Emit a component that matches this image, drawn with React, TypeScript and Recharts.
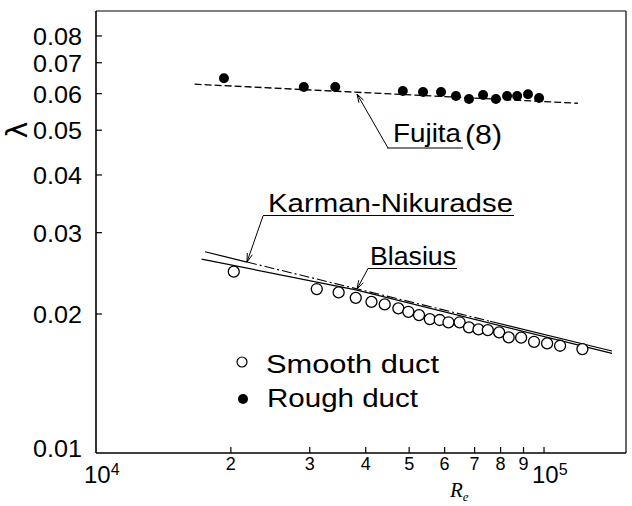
import React from 'react';
import { ComposedChart, Scatter, Line, XAxis, YAxis, ReferenceLine } from 'recharts';

// smooth duct (open circles)
const smoothRe = [20300, 31100, 34800, 38000, 41200, 44100, 47300, 49800, 52600, 55600, 58500, 61200,
  64800, 68000, 71400, 74900, 79400, 83400, 88900, 95000, 101600, 108600, 121800];
const smoothLambda = [0.0247, 0.02265, 0.02227, 0.02168, 0.02125, 0.02098, 0.02057, 0.02022, 0.01989,
  0.0195, 0.01941, 0.01919, 0.01919, 0.01871, 0.01852, 0.01846, 0.01825, 0.0178, 0.01777, 0.01741,
  0.01727, 0.01707, 0.01679];

// rough duct (filled dots)
const roughRe = [19300, 29100, 34200, 48400, 53700, 58900, 63600, 68000, 73100, 78100, 82700, 87100, 92100, 97500];
const roughLambda = [0.0648, 0.062, 0.062, 0.0608, 0.0605, 0.0605, 0.0593, 0.0584, 0.0596, 0.0584,
  0.0593, 0.0593, 0.0598, 0.0587];

// Fujita(8) dashed line
const fujitaRe = [16600, 119000];
const fujitaLambda = [0.0629, 0.0572];

// Blasius (upper, partly dash-dot)
const blasiusRe = [17510, 21730, 75800, 141800];
const blasiusLambda = [0.02728, 0.02591, 0.01929, 0.01663];

// Karman-Nikuradse (lower solid)
const karmanRe = [17210, 38240, 141800];
const karmanLambda = [0.0263, 0.02253, 0.01644];

const xTicks = [10000, 20000, 30000, 40000, 50000, 60000, 70000, 80000, 90000, 100000];
const xTickLabels = ['10', '2', '3', '4', '5', '6', '7', '8', '9', '10'];
const xTickExp = ['4', '', '', '', '', '', '', '', '', '5'];

const yTicks = [0.01, 0.02, 0.03, 0.04, 0.05, 0.06, 0.07, 0.08];
const yTickLabels = ['0.01', '0.02', '0.03', '0.04', '0.05', '0.06', '0.07', '0.08'];

const xDomain = [10000, 152400];
const yDomain = [0.01, 0.0906];

const pts = (xs: number[], ys: number[]) => xs.map((re, i) => ({ re, lambda: ys[i] }));

const smoothData = pts(smoothRe, smoothLambda);
const roughData = pts(roughRe, roughLambda);
const fujitaData = pts(fujitaRe, fujitaLambda);
const blasiusData = pts(blasiusRe, blasiusLambda);
const karmanData = pts(karmanRe, karmanLambda);

const SANS = 'Liberation Sans, Arial, Helvetica, sans-serif';

const XTick = (props: any) => {
  const { x, y, payload } = props;
  const i = xTicks.indexOf(payload.value);
  const exp = xTickExp[i];
  return (
    <g>
      {i > 0 && <line x1={x} x2={x} y1={y} y2={y - 6} stroke="#000" strokeWidth={1.2} />}
      {exp ? (
        <text x={x - 12} y={y + 30} fontSize={24} fontFamily={SANS} fill="#000">
          {xTickLabels[i]}
          <tspan dy={-8} fontSize={16}>{exp}</tspan>
        </text>
      ) : (
        <text x={x} y={y + 17} fontSize={18} fontFamily={SANS} fill="#000" textAnchor="middle">
          {xTickLabels[i]}
        </text>
      )}
    </g>
  );
};

const YTick = (props: any) => {
  const { x, y, payload } = props;
  const i = yTicks.indexOf(payload.value);
  return (
    <g>
      {i > 0 && <line x1={x} x2={x + 6} y1={y} y2={y} stroke="#000" strokeWidth={1.2} />}
      <text x={x - 14} y={y + (i === 0 ? 4 : 9)} fontSize={24} fontFamily={SANS} fill="#000"
        textAnchor="end" textLength={49} lengthAdjust="spacingAndGlyphs">
        {yTickLabels[i]}
      </text>
    </g>
  );
};

const OpenDot = (p: any) => <circle cx={p.cx} cy={p.cy} r={5.5} fill="#fff" stroke="#000" strokeWidth={1.3} />;
const FilledDot = (p: any) => <circle cx={p.cx} cy={p.cy} r={5} fill="#000" />;

function Leader({ x1, y1, x2, y2 }: { x1: number; y1: number; x2: number; y2: number }) {
  // arrow from (x1,y1) to tip (x2,y2)
  const dx = x2 - x1;
  const dy = y2 - y1;
  const len = Math.hypot(dx, dy);
  const ux = dx / len;
  const uy = dy / len;
  const a = 0.3;
  const L = 9;
  const w1x = x2 - L * (ux * Math.cos(a) - uy * Math.sin(a));
  const w1y = y2 - L * (uy * Math.cos(a) + ux * Math.sin(a));
  const w2x = x2 - L * (ux * Math.cos(-a) - uy * Math.sin(-a));
  const w2y = y2 - L * (uy * Math.cos(-a) + ux * Math.sin(-a));
  return (
    <g stroke="#000" strokeWidth={1} fill="none">
      <line x1={x1} y1={y1} x2={x2} y2={y2} />
      <polyline points={`${w1x},${w1y} ${x2},${y2} ${w2x},${w2y}`} />
    </g>
  );
}

export default function App() {
  return (
    <div style={{ position: 'absolute', left: 0, top: 0, width: 632, height: 506, background: '#fff' }}>
      <ComposedChart width={632} height={506} margin={{ top: 11, right: 6, bottom: 10, left: 10 }}>
        <XAxis
          dataKey="re"
          type="number"
          scale="log"
          domain={xDomain}
          allowDataOverflow
          ticks={xTicks}
          interval={0}
          tick={<XTick />}
          tickLine={false}
          tickSize={0}
          tickMargin={0}
          height={43}
          axisLine={{ stroke: '#000', strokeWidth: 1.6 }}
        />
        <YAxis
          dataKey="lambda"
          type="number"
          scale="log"
          domain={yDomain}
          allowDataOverflow
          ticks={yTicks}
          interval={0}
          tick={<YTick />}
          tickLine={false}
          tickSize={0}
          tickMargin={0}
          width={86}
          axisLine={{ stroke: '#000', strokeWidth: 1.6 }}
        />
        <ReferenceLine y={yDomain[1]} stroke="#000" strokeWidth={1.2} />
        <ReferenceLine x={xDomain[1]} stroke="#000" strokeWidth={1.2} />

        <Line data={fujitaData} dataKey="lambda" stroke="#000" strokeWidth={1.3} strokeDasharray="7 3"
          dot={false} isAnimationActive={false} />
        <Line data={karmanData} dataKey="lambda" stroke="#000" strokeWidth={1.2}
          dot={false} isAnimationActive={false} />
        <Line data={blasiusData.slice(0, 2)} dataKey="lambda" stroke="#000" strokeWidth={1.2}
          dot={false} isAnimationActive={false} />
        <Line data={blasiusData.slice(1, 3)} dataKey="lambda" stroke="#000" strokeWidth={1.1}
          strokeDasharray="10 3 2 3" dot={false} isAnimationActive={false} />
        <Line data={blasiusData.slice(2, 4)} dataKey="lambda" stroke="#000" strokeWidth={1.2}
          dot={false} isAnimationActive={false} />

        <Scatter data={smoothData} dataKey="lambda" shape={OpenDot} isAnimationActive={false} />
        <Scatter data={roughData} dataKey="lambda" shape={FilledDot} isAnimationActive={false} />
      </ComposedChart>

      <svg width={632} height={506} style={{ position: 'absolute', left: 0, top: 0, pointerEvents: 'none' }}>
        {/* axis titles */}
        <g transform="translate(18 130) rotate(-90)">
          <text x={0} y={9} fontSize={28} fontFamily="DejaVu Sans, sans-serif" textAnchor="middle">λ</text>
        </g>
        <text x={450} y={497} fontSize={21} fontFamily="Liberation Serif, serif" fontStyle="italic">
          R<tspan fontSize={13} dy={4}>e</tspan>
        </text>

        {/* Fujita(8) */}
        <text x={393} y={142} fontSize={26} fontFamily={SANS} textLength={68} lengthAdjust="spacingAndGlyphs">Fujita</text>
        <text x={465} y={144} fontSize={27} fontFamily={SANS} textLength={37} lengthAdjust="spacingAndGlyphs">(8)</text>
        <line x1={387} x2={463} y1={148} y2={148} stroke="#000" strokeWidth={1.1} />
        <Leader x1={388} y1={148} x2={357} y2={94} />

        {/* Karman-Nikuradse */}
        <text x={268} y={211.5} fontSize={25} fontFamily={SANS} textLength={245} lengthAdjust="spacingAndGlyphs">Karman-Nikuradse</text>
        <line x1={263} x2={514} y1={215.5} y2={215.5} stroke="#000" strokeWidth={1.1} />
        <Leader x1={263} y1={216} x2={247} y2={262} />

        {/* Blasius */}
        <text x={370} y={265} fontSize={25} fontFamily={SANS} textLength={86} lengthAdjust="spacingAndGlyphs">Blasius</text>
        <line x1={368} x2={457} y1={268.5} y2={268.5} stroke="#000" strokeWidth={1.1} />
        <Leader x1={368} y1={268.5} x2={357} y2={289} />

        {/* legend */}
        <circle cx={242} cy={362} r={5} fill="#fff" stroke="#000" strokeWidth={1.2} />
        <text x={266} y={373} fontSize={25} fontFamily={SANS} textLength={173} lengthAdjust="spacingAndGlyphs">Smooth duct</text>
        <circle cx={243} cy={399} r={5} fill="#000" />
        <text x={267} y={406.5} fontSize={25} fontFamily={SANS} textLength={151} lengthAdjust="spacingAndGlyphs">Rough duct</text>
      </svg>
    </div>
  );
}
